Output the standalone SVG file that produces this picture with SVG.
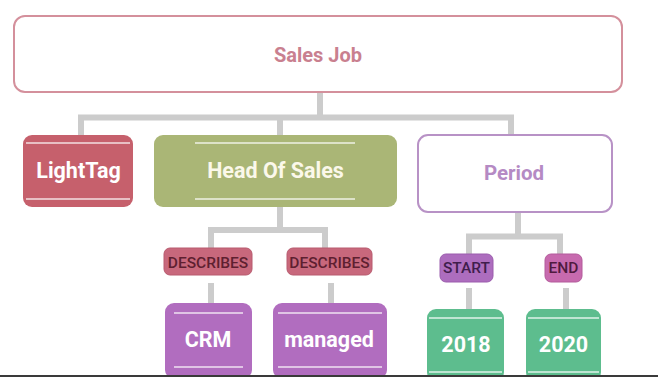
<svg xmlns="http://www.w3.org/2000/svg" width="658" height="377" viewBox="0 0 658 377">
<style>
.c{stroke:#cccccc;stroke-width:6;fill:none}
.t{font-family:Roboto,"Liberation Sans",sans-serif;font-weight:700;font-size:21.5px;text-anchor:middle}
.w{fill:#ffffff}
.l{font-family:Roboto,"Liberation Sans",sans-serif;font-weight:500;font-size:15.5px;text-anchor:middle}
.ln{stroke:#ffffff;stroke-opacity:0.8;stroke-width:1.6}
</style>
<rect width="658" height="377" fill="#ffffff"/>
<g id="connectors">
<path class="c" d="M320 92V117.5M81 135V117.5H511V135M280 117.5V135"/>
<path class="c" d="M280 207V230M211 248V230H325V248M211 283V303M331 283V303"/>
<path class="c" d="M518 212V236.5M469 254V236.5H560V254M469 288V309M566 288V309"/>
</g>
<g id="sales-job">
<rect x="14" y="16" width="608" height="76" rx="11" fill="#ffffff" stroke="#d4909c" stroke-width="2"/>
<text class="t" x="318" y="62" fill="#c9808f" style="font-size:20px">Sales Job</text>
</g>
<g id="lighttag">
<rect x="23" y="135" width="110" height="72" rx="9" fill="#c6606c"/>
<line class="ln" x1="26" y1="143" x2="130" y2="143"/>
<line class="ln" x1="26" y1="199" x2="130" y2="199"/>
<text class="t w" x="78.5" y="178">LightTag</text>
</g>
<g id="head-of-sales">
<rect x="154" y="135" width="243" height="72" rx="9" fill="#aab676"/>
<line class="ln" x1="195" y1="143" x2="355" y2="143"/>
<line class="ln" x1="195" y1="199" x2="355" y2="199"/>
<text class="t" x="275.5" y="178" fill="#fbf8ea">Head Of Sales</text>
</g>
<g id="period">
<rect x="418" y="135" width="194" height="77" rx="10" fill="#ffffff" stroke="#b892c6" stroke-width="2"/>
<text class="t" x="514" y="180" fill="#b58ac4" style="font-size:20.5px">Period</text>
</g>
<g id="describes-1">
<rect x="164" y="248" width="88" height="27" rx="6" fill="#c8687c" stroke="#b85a6e" stroke-width="1"/>
<text class="l" x="208" y="268" fill="#5e1f30">DESCRIBES</text>
</g>
<g id="describes-2">
<rect x="287" y="248" width="85" height="27" rx="6" fill="#c8687c" stroke="#b85a6e" stroke-width="1"/>
<text class="l" x="329.5" y="268" fill="#5e1f30">DESCRIBES</text>
</g>
<g id="start">
<rect x="440" y="254" width="53" height="28" rx="6" fill="#ad6dbe" stroke="#9b5dad" stroke-width="1"/>
<text class="l" x="466.5" y="273" fill="#3f1d4c">START</text>
</g>
<g id="end">
<rect x="545" y="254" width="37" height="28" rx="6" fill="#c76aae" stroke="#b35b9b" stroke-width="1"/>
<text class="l" x="563.5" y="273" fill="#4f1a3e">END</text>
</g>
<g id="crm">
<rect x="165" y="303" width="87" height="76" rx="9" fill="#b16dbf"/>
<line class="ln" x1="174" y1="313" x2="243" y2="313"/>
<line class="ln" x1="174" y1="367" x2="243" y2="367"/>
<text class="t w" x="208" y="347">CRM</text>
</g>
<g id="managed">
<rect x="273" y="303" width="114" height="76" rx="9" fill="#b16dbf"/>
<line class="ln" x1="278" y1="313" x2="382" y2="313"/>
<line class="ln" x1="278" y1="367" x2="382" y2="367"/>
<text class="t w" x="329" y="347">managed</text>
</g>
<g id="y2018">
<rect x="427" y="309" width="77" height="72" rx="9" fill="#5dbd8e"/>
<line class="ln" x1="429" y1="318" x2="502" y2="318"/>
<line class="ln" x1="429" y1="372" x2="502" y2="372"/>
<text class="t w" x="466" y="352">2018</text>
</g>
<g id="y2020">
<rect x="526" y="309" width="75" height="72" rx="9" fill="#5dbd8e"/>
<line class="ln" x1="528" y1="318" x2="599" y2="318"/>
<line class="ln" x1="528" y1="372" x2="599" y2="372"/>
<text class="t w" x="563.5" y="352">2020</text>
</g>
<rect x="0" y="375" width="658" height="2" fill="#3a3a3a"/>
</svg>
